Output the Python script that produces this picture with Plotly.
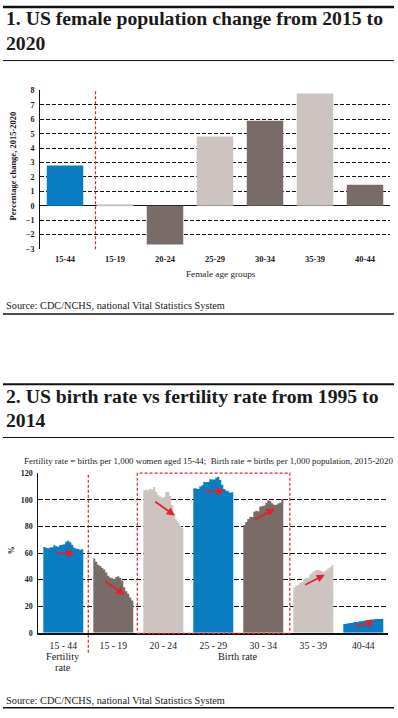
import numpy as np
import plotly.graph_objects as go

W, H = 398, 718
SERIF = "Liberation Serif"
BLUE = "#0a7dc2"
DARK = "#796c68"
LIGHT = "#cdc4c1"
RED = "#e3202f"
INK = "#1a1a1a"

# ---------------- Chart 1 data ----------------
age_groups_1 = ["15-44", "15-19", "20-24", "25-29", "30-34", "35-39", "40-44"]
pct_change = [2.8, 0.05, -2.7, 4.8, 5.9, 7.8, 1.45]
colors_1 = [BLUE, LIGHT, DARK, LIGHT, DARK, LIGHT, DARK]
y_ticks_1 = list(range(-3, 9))

# ---------------- Chart 2 data ----------------
years = list(range(1995, 2015))
age_groups_2 = ["15 - 44", "15 - 19", "20 - 24", "25 - 29", "30 - 34", "35 - 39", "40-44"]
fertility_15_44 = [64.6, 64.1, 63.6, 64.3, 64.4, 65.9, 65.1, 64.8, 66.1, 66.3,
                   66.7, 68.6, 69.3, 68.1, 66.2, 64.1, 63.2, 63.0, 62.5, 62.9]
birth_15_19 = [56.0, 53.5, 51.3, 50.3, 48.8, 47.7, 45.3, 43.0, 41.6, 41.1,
               40.5, 41.9, 42.5, 41.5, 39.1, 34.2, 31.3, 29.4, 26.5, 24.2]
birth_20_24 = [107.5, 107.8, 107.3, 108.4, 107.9, 109.7, 106.2, 103.6, 102.6, 101.7,
               102.2, 105.9, 106.3, 103.0, 96.2, 90.0, 85.3, 83.1, 80.7, 79.0]
birth_25_29 = [108.8, 108.6, 108.3, 110.2, 111.2, 113.5, 113.4, 113.6, 115.6, 115.5,
               115.5, 116.7, 117.5, 115.1, 111.5, 108.3, 107.2, 106.5, 105.5, 105.8]
birth_30_34 = [81.1, 83.5, 85.7, 87.4, 87.1, 91.2, 91.9, 91.5, 95.1, 95.3,
               95.8, 97.7, 99.9, 99.3, 97.5, 96.5, 96.5, 97.3, 98.0, 100.8]
birth_35_39 = [34.0, 35.3, 36.1, 37.4, 38.3, 40.7, 41.3, 41.4, 43.8, 45.4,
               46.3, 47.3, 47.5, 46.9, 46.1, 45.9, 47.2, 48.3, 49.3, 51.0]
birth_40_44 = [6.6, 6.8, 7.1, 7.3, 7.4, 8.0, 8.1, 8.3, 8.7, 8.9,
               9.1, 9.4, 9.5, 9.9, 10.0, 10.2, 10.3, 10.4, 10.4, 10.6]
colors_2 = [BLUE, DARK, LIGHT, BLUE, DARK, LIGHT, BLUE]
trend_start = [60.0, 39.6, 99.5, 106.5, 84.6, 35.6, 4.7]
trend_end = [60.0, 28.5, 88.3, 106.5, 93.5, 43.6, 8.2]
y_ticks_2 = [0, 20, 40, 60, 80, 100, 120]

series_2 = [fertility_15_44, birth_15_19, birth_20_24, birth_25_29,
            birth_30_34, birth_35_39, birth_40_44]


def px(x):
    return x / W


def py(y):
    return 1 - y / H


fig = go.Figure()

# Chart 1 bars
fig.add_trace(go.Bar(
    x=age_groups_1, y=pct_change, marker=dict(color=colors_1, line=dict(width=0)),
    width=0.73, xaxis="x", yaxis="y", showlegend=False, hoverinfo="x+y",
))

# Chart 2: one narrow step per year, grouped by age group (drawn as a stepped area
# so adjacent yearly bars join without seams)
n = len(years)
bw = 0.8 / n
for g, vals in enumerate(series_2):
    edges = g - 0.4 + np.arange(n + 1) * bw
    ys = list(vals) + [vals[-1]]
    fig.add_trace(go.Scatter(
        x=edges, y=ys, mode="lines", fill="tozeroy", fillcolor=colors_2[g],
        line=dict(width=0, shape="hv", color=colors_2[g]),
        xaxis="x2", yaxis="y2", showlegend=False,
        customdata=years + [years[-1]],
        hovertemplate="%{customdata}: %{y}<extra></extra>",
    ))

dash_grid = "4px,2px"
tick_font_b = dict(family=SERIF, size=8, color=INK, weight="bold")

fig.update_layout(
    width=W, height=H, margin=dict(l=0, r=0, t=0, b=0),
    paper_bgcolor="white", plot_bgcolor="white", barmode="overlay",
    font=dict(family=SERIF, color=INK),
    xaxis=dict(domain=[px(40), px(390)], range=[-0.5, 6.5], type="category",
               showgrid=False, showline=False, zeroline=False, ticks="",
               tickfont=dict(family=SERIF, size=8.5, color=INK, weight="bold"),
               ticklabelstandoff=3, fixedrange=True),
    yaxis=dict(domain=[py(248.3), py(87.3)], range=[-3.02, 8.02],
               tickvals=y_ticks_1, showgrid=True, griddash=dash_grid,
               gridcolor="#111111", gridwidth=1, zeroline=True,
               zerolinecolor="#111111", zerolinewidth=1.3,
               showline=True, linecolor="#111111", linewidth=1, ticks="",
               tickfont=tick_font_b, ticklabelstandoff=3, fixedrange=True),
    xaxis2=dict(domain=[px(38.3), px(388.3)], range=[-0.5, 6.5],
                tickvals=list(range(len(age_groups_2))), ticktext=age_groups_2,
                showgrid=False, zeroline=False, showline=True,
                linecolor="#111111", linewidth=1.5, ticks="",
                tickfont=dict(family=SERIF, size=9.7, color=INK),
                ticklabelstandoff=3, anchor="y2", fixedrange=True),
    yaxis2=dict(domain=[py(636.7), py(475)], range=[0, 120.3],
                tickvals=y_ticks_2, showgrid=True, griddash="5px,2px",
                gridcolor="#111111", gridwidth=1, zeroline=False,
                showline=True, linecolor="#111111", linewidth=1, ticks="",
                tickfont=tick_font_b, ticklabelstandoff=3, anchor="x2",
                fixedrange=True),
)

shapes = []
# rules
for y, w in [(3, 2.5), (57.3, 1), (314, 1.5), (385, 2), (439, 1), (712.7, 1.5)]:
    shapes.append(dict(type="line", xref="paper", yref="paper",
                       x0=px(3), x1=px(394), y0=py(y), y1=py(y),
                       line=dict(color="#111111", width=w)))
# chart 1 red dashed divider
shapes.append(dict(type="line", xref="x", yref="y domain", x0=0.61, x1=0.61,
                   y0=0, y1=1, line=dict(color=RED, width=1.2, dash="3px,2px")))
# chart 2 red dashed divider
shapes.append(dict(type="line", xref="x2", yref="paper", x0=0.5, x1=0.5,
                   y0=py(657), y1=py(475), line=dict(color=RED, width=1.2, dash="3px,2px")))
# chart 2 red dashed box
shapes.append(dict(type="rect", xref="x2", yref="y2 domain", x0=1.48, x1=4.53,
                   y0=-0.004, y1=1, line=dict(color=RED, width=1.2, dash="3px,2px")))
fig.update_layout(shapes=shapes)

ann = []


def text(x, y, s, size, weight="normal", xanchor="left", angle=0):
    ann.append(dict(xref="paper", yref="paper", x=px(x), y=py(y), text=s,
                    showarrow=False, xanchor=xanchor, yanchor="middle",
                    textangle=angle,
                    font=dict(family=SERIF, size=size, color=INK, weight=weight)))


# titles
text(4, 14.5, "1. US female population change from 2015 to", 19.7, "bold")
text(4, 39.2, "2020", 19.7, "bold")
text(4, 397, "2. US birth rate vs fertility rate from 1995 to", 19.7, "bold")
text(4, 421.5, "2014", 19.7, "bold")
# chart 1 axis titles
text(12.5, 164, "Percentage change, 2015-2020", 8.5, "bold", "center", -90)
text(221, 273.3, "Female age groups", 9.2, "normal", "center")
# sources
text(4, 305.5, "Source: CDC/NCHS, national Vital Statistics System", 10.3)
text(4, 705, "Source: CDC/NCHS, national Vital Statistics System", 10.3)
# chart 2 subtitle
text(21.5, 462.5, "Fertility rate = births per 1,000 women aged 15-44;&nbsp;&nbsp;Birth rate = births per 1,000 population, 2015-2020",
     8.9, "normal")
text(11, 553.3, "%", 8, "bold", "center", -90)
text(63.3, 661, "Fertility", 10.3, "normal", "center")
text(63.3, 672.3, "rate", 10.3, "normal", "center")
text(237.8, 661, "Birth rate", 10.3, "normal", "center")

# trend arrows
for g in range(len(series_2)):
    ann.append(dict(xref="x2", yref="y2", axref="x2", ayref="y2",
                    x=g + 0.23, y=trend_end[g], ax=g - 0.19, ay=trend_start[g],
                    text="", showarrow=True, arrowhead=2, arrowsize=0.9,
                    arrowwidth=1.8, arrowcolor=RED, standoff=0, startstandoff=0))

fig.update_layout(annotations=ann)
fig.write_html(
    "out.html",
    config={"displayModeBar": False},
    post_script="document.body.style.margin='0';document.body.style.overflow='hidden';",
)
